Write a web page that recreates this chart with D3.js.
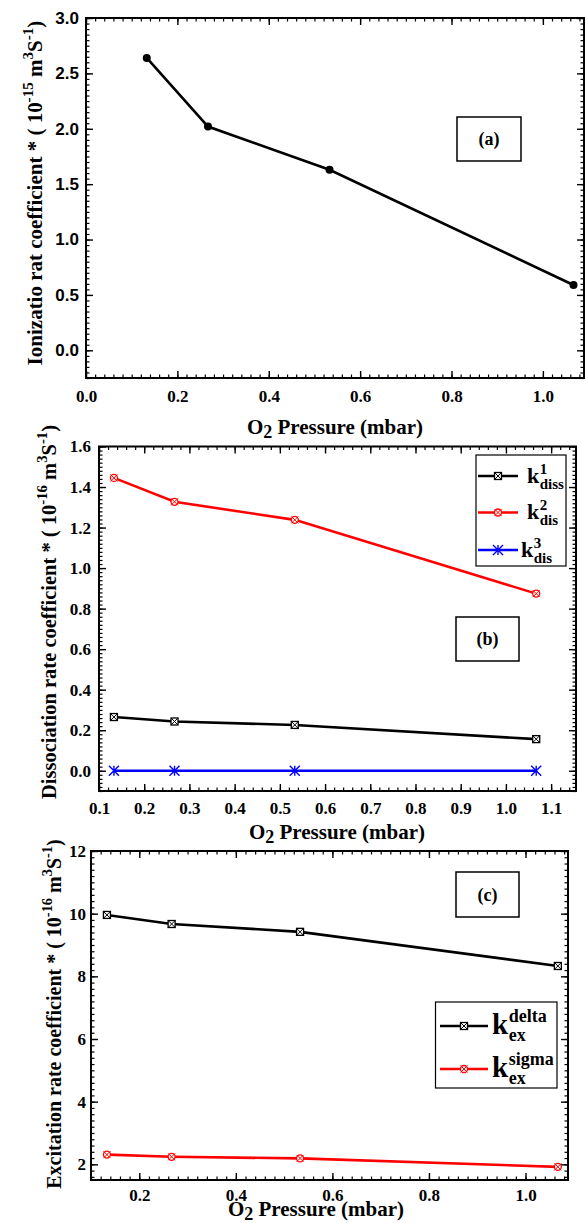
<!DOCTYPE html>
<html>
<head>
<meta charset="utf-8">
<script src="https://cdn.jsdelivr.net/npm/d3@7"></script>
<style>
  body { margin: 0; background: #fff; }
  svg text { font-family: "Liberation Serif", "Times New Roman", serif; font-weight: bold; fill: #000; }
  svg text.sans { font-family: "Liberation Sans", Arial, sans-serif; }
</style>
</head>
<body>
<svg width="585" height="1223"></svg>
<script>
// O2 pressure (mbar), shared by all three panels
const pressure = [0.133, 0.267, 0.533, 1.067];

// (a) ionization rate coefficient, 1e-15 m3/s
const ionization = [2.64, 2.02, 1.63, 0.59];

// (b) dissociation rate coefficients, 1e-16 m3/s
const kDiss1 = [0.265, 0.243, 0.226, 0.156];
const kDis2 = [1.445, 1.327, 1.238, 0.874];
const kDis3 = [0, 0, 0, 0];

// (c) excitation rate coefficients, 1e-16 m3/s
const kExDelta = [9.96, 9.67, 9.42, 8.33];
const kExSigma = [2.31, 2.24, 2.19, 1.92];

// tick labels
const ticksAx = [0, 0.2, 0.4, 0.6, 0.8, 1.0];
const ticksAy = [0, 0.5, 1.0, 1.5, 2.0, 2.5, 3.0];
const ticksBx = [0.1, 0.2, 0.3, 0.4, 0.5, 0.6, 0.7, 0.8, 0.9, 1.0, 1.1];
const ticksBy = [0, 0.2, 0.4, 0.6, 0.8, 1.0, 1.2, 1.4, 1.6];
const ticksCx = [0.2, 0.4, 0.6, 0.8, 1.0];
const ticksCy = [2, 4, 6, 8, 10, 12];

const svg = d3.select('svg');
svg.append('rect').attr('width', 585).attr('height', 1223).attr('fill', '#fff');

const f1 = d3.format('.1f');

function minorRange(dom, step) {
  const a = Math.ceil(dom[0] / step - 1e-6), b = Math.floor(dom[1] / step + 1e-6);
  return d3.range(a, b + 1).map(i => +(i * step).toFixed(6));
}

function drawPanel(p) {
  const x = d3.scaleLinear().domain(p.xDomain).range([p.left, p.right]);
  const y = d3.scaleLinear().domain(p.yDomain).range([p.bottom, p.top]);
  const g = svg.append('g');

  const sides = [
    {make: () => d3.axisBottom(x), t: `translate(0,${p.bottom})`, major: p.xTicks, minor: minorRange(p.xDomain, p.xStep), fmt: p.xFmt, pad: p.xPad, cls: p.xCls},
    {make: () => d3.axisTop(x), t: `translate(0,${p.top})`, major: p.xTicks, minor: minorRange(p.xDomain, p.xStep)},
    {make: () => d3.axisLeft(y), t: `translate(${p.left},0)`, major: p.yTicks, minor: minorRange(p.yDomain, p.yStep), fmt: p.yFmt, pad: p.yPad, cls: p.yCls},
    {make: () => d3.axisRight(y), t: `translate(${p.right},0)`, major: p.yTicks, minor: minorRange(p.yDomain, p.yStep)}
  ];

  sides.forEach(s => {
    g.append('g').attr('transform', s.t)
      .call(s.make().tickValues(s.minor).tickSize(-3.5).tickFormat(''))
      .call(a => a.select('.domain').remove())
      .call(a => a.selectAll('line').attr('stroke-width', 1.2));
    const ax = g.append('g').attr('transform', s.t)
      .call(s.make().tickValues(s.major).tickSize(-7).tickPadding(s.pad || 0)
        .tickFormat(s.fmt ? s.fmt : ''))
      .call(a => a.select('.domain').remove())
      .call(a => a.selectAll('line').attr('stroke-width', 1.4));
    ax.attr('font-family', null).attr('font-size', null);
    ax.selectAll('text').attr('font-size', p.tickFont).attr('class', s.cls || null);
  });

  g.append('rect')
    .attr('x', p.left).attr('y', p.top)
    .attr('width', p.right - p.left).attr('height', p.bottom - p.top)
    .attr('fill', 'none').attr('stroke', '#000').attr('stroke-width', 2);

  // x title
  const xt = g.append('text').attr('x', p.xTitleX).attr('y', p.xTitleY)
    .attr('text-anchor', 'middle').attr('font-size', 21);
  xt.append('tspan').text('O');
  xt.append('tspan').attr('dy', 4).attr('font-size', 18).text('2');
  xt.append('tspan').attr('dy', -4).text(' Pressure (mbar)');

  // y title (rotated)
  const yt = g.append('text')
    .attr('transform', `translate(${p.yTitleX},${p.yTitleY}) rotate(-90)`)
    .attr('text-anchor', 'middle').attr('font-size', p.yTitleSize);
  let lift = 0;
  p.yTitle.forEach(([txt, sup]) => {
    const want = sup ? -9 : 0;
    yt.append('tspan').attr('dy', want - lift).attr('font-size', sup ? p.yTitleSize * 0.72 : null).text(txt);
    lift = want;
  });

  // label box
  const b = p.box;
  g.append('rect').attr('x', b[0]).attr('y', b[1]).attr('width', b[2] - b[0]).attr('height', b[3] - b[1])
    .attr('fill', '#fff').attr('stroke', '#000').attr('stroke-width', 1.5);
  g.append('text').attr('x', (b[0] + b[2]) / 2).attr('y', (b[1] + b[3]) / 2 + 6)
    .attr('text-anchor', 'middle').attr('font-size', 18).text(p.boxText);

  // series
  const line = d3.line().x(d => x(d[0])).y(d => y(d[1]));
  p.series.forEach(s => {
    const pts = pressure.map((px, i) => [px, s.values[i]]);
    g.append('path').datum(pts).attr('d', line)
      .attr('fill', 'none').attr('stroke', s.color).attr('stroke-width', 2.6);
    pts.forEach(d => marker(g, s.marker, x(d[0]), y(d[1]), s.color));
  });

  // legend
  if (p.legend) {
    const L = p.legend;
    g.append('rect').attr('x', L.box[0]).attr('y', L.box[1])
      .attr('width', L.box[2] - L.box[0]).attr('height', L.box[3] - L.box[1])
      .attr('fill', '#fff').attr('stroke', '#000').attr('stroke-width', 1.2);
    L.rows.forEach((r, i) => {
      const s = p.series[i];
      const ry = r.y;
      g.append('line').attr('x1', L.x1).attr('x2', L.x2).attr('y1', ry).attr('y2', ry)
        .attr('stroke', s.color).attr('stroke-width', 2.6);
      marker(g, s.marker, (L.x1 + L.x2) / 2, ry, s.color);
      const k = g.append('text').attr('x', r.kx).attr('y', ry + L.kDy)
        .attr('font-size', L.kSize).text('k');
      const kx2 = r.kx + k.node().getComputedTextLength() + 0.5;
      g.append('text').attr('x', kx2).attr('y', ry + L.supDy).attr('font-size', L.sSize).text(r.sup);
      g.append('text').attr('x', kx2).attr('y', ry + L.subDy).attr('font-size', L.sSize).text(r.sub);
    });
  }
}

function marker(g, type, cx, cy, color) {
  if (type === 'dot') {
    g.append('circle').attr('cx', cx).attr('cy', cy).attr('r', 4).attr('fill', color);
  } else if (type === 'boxx') {
    const h = 3.5;
    g.append('rect').attr('x', cx - h).attr('y', cy - h).attr('width', 2 * h).attr('height', 2 * h)
      .attr('fill', '#fff').attr('stroke', color).attr('stroke-width', 1.3);
    g.append('path').attr('d', `M${cx - h},${cy - h}L${cx + h},${cy + h}M${cx - h},${cy + h}L${cx + h},${cy - h}`)
      .attr('stroke', color).attr('stroke-width', 1);
  } else if (type === 'circx') {
    const h = 3.5;
    g.append('circle').attr('cx', cx).attr('cy', cy).attr('r', h)
      .attr('fill', '#fff').attr('stroke', color).attr('stroke-width', 1.3);
    g.append('path').attr('d', `M${cx - h},${cy - h}L${cx + h},${cy + h}M${cx - h},${cy + h}L${cx + h},${cy - h}`)
      .attr('stroke', color).attr('stroke-width', 1);
  } else if (type === 'star') {
    const h = 5;
    g.append('path').attr('d', `M${cx - h},${cy - h}L${cx + h},${cy + h}M${cx - h},${cy + h}L${cx + h},${cy - h}M${cx},${cy - h}L${cx},${cy + h}`)
      .attr('stroke', color).attr('stroke-width', 1.4);
  }
}

// (a)
drawPanel({
  left: 86, right: 584, top: 18, bottom: 378,
  xDomain: [0, 1.09], yDomain: [-0.25, 3.0],
  xTicks: ticksAx, yTicks: ticksAy, xStep: 0.02, yStep: 0.05,
  xFmt: f1, yFmt: f1, xPad: 12, yPad: 7, yCls: 'sans', tickFont: 17,
  xTitleX: 335, xTitleY: 434,
  yTitleX: 42, yTitleY: 193, yTitleSize: 21,
  yTitle: [['Ionizatio rat coefficient * ( 10', 0], ['-15', 1], [' m', 0], ['3', 1], ['S', 0], ['-1', 1], [')', 0]],
  box: [457, 117, 521, 161], boxText: '(a)',
  series: [{values: ionization, color: '#000', marker: 'dot'}]
});

// (b)
drawPanel({
  left: 99, right: 576, top: 446.5, bottom: 791,
  xDomain: [0.1, 1.155], yDomain: [-0.1, 1.6],
  xTicks: ticksBx, yTicks: ticksBy, xStep: 0.02, yStep: 0.02,
  xFmt: f1, yFmt: f1, xPad: 11, yPad: 8, tickFont: 17,
  xTitleX: 337, xTitleY: 839,
  yTitleX: 56, yTitleY: 612, yTitleSize: 20.5,
  yTitle: [['Dissociation rate coefficient * ( 10', 0], ['-16', 1], [' m', 0], ['3', 1], ['S', 0], ['-1', 1], [')', 0]],
  box: [456, 617, 519, 661], boxText: '(b)',
  series: [
    {values: kDiss1, color: '#000', marker: 'boxx'},
    {values: kDis2, color: '#f00', marker: 'circx'},
    {values: kDis3, color: '#00f', marker: 'star'}
  ],
  legend: {
    box: [476, 455, 566, 566], x1: 478, x2: 518,
    kSize: 22, sSize: 15, kDy: 6.5, supDy: -2.5, subDy: 12.5,
    rows: [
      {y: 476, kx: 527, sup: '1', sub: 'diss'},
      {y: 512.5, kx: 527, sup: '2', sub: 'dis'},
      {y: 550, kx: 521, sup: '3', sub: 'dis'}
    ]
  }
});

// (c)
drawPanel({
  left: 91, right: 568, top: 851, bottom: 1180,
  xDomain: [0.1, 1.088], yDomain: [1.5, 12],
  xTicks: ticksCx, yTicks: ticksCy, xStep: 0.02, yStep: 0.2,
  xFmt: f1, yFmt: d3.format('d'), xPad: 9, yPad: 5, tickFont: 17,
  xTitleX: 316, xTitleY: 1216,
  yTitleX: 61, yTitleY: 1014, yTitleSize: 20,
  yTitle: [['Excitation rate coefficient * ( 10', 0], ['-16', 1], [' m', 0], ['3', 1], ['S', 0], ['-1', 1], [')', 0]],
  box: [456, 872, 519, 917], boxText: '(c)',
  series: [
    {values: kExDelta, color: '#000', marker: 'boxx'},
    {values: kExSigma, color: '#f00', marker: 'circx'}
  ],
  legend: {
    box: [435.5, 1002, 557, 1088], x1: 440, x2: 488,
    kSize: 29, sSize: 18, kDy: 8, supDy: -4, subDy: 14.5,
    rows: [
      {y: 1026, kx: 492, sup: 'delta', sub: 'ex'},
      {y: 1069, kx: 492, sup: 'sigma', sub: 'ex'}
    ]
  }
});
</script>
</body>
</html>
